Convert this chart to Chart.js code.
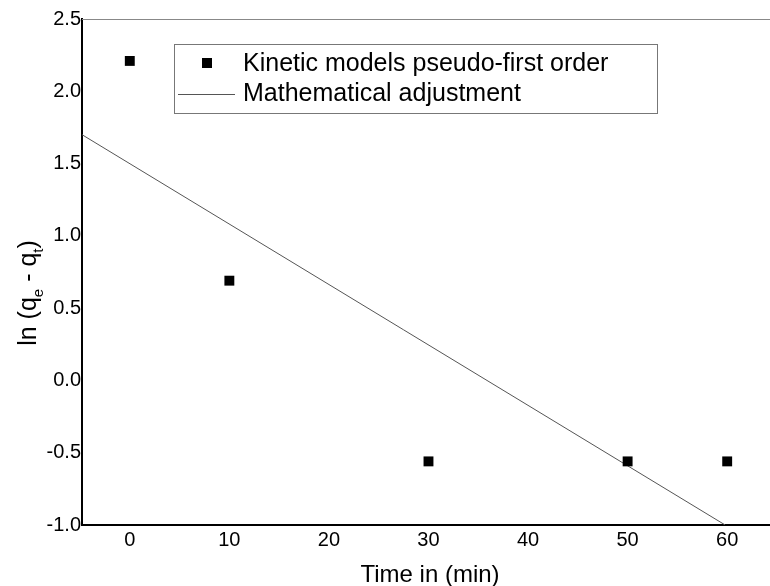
<!DOCTYPE html>
<html>
<head>
<meta charset="utf-8">
<script src="https://cdn.jsdelivr.net/npm/chart.js@4/dist/chart.umd.min.js"></script>
<style>
  html, body { margin: 0; padding: 0; background: #fff; }
  #chart { display: block; }
</style>
</head>
<body>
<canvas id="chart" width="770" height="586"></canvas>
<script>
const fontFamily = '"Liberation Sans", Arial, sans-serif';

// measured points (time in min, ln(qe - qt))
const timeMin = [0, 10, 30, 50, 60];
const lnValues = [2.21, 0.69, -0.56, -0.56, -0.56];

// fitted line, read at both ends of the drawn segment
const fitX = [-4.8, 59.8];
const fitY = [1.70, -1.0];

const xTicks = [0, 10, 20, 30, 40, 50, 60];
const yTicks = [-1.0, -0.5, 0.0, 0.5, 1.0, 1.5, 2.0, 2.5];

const seriesNames = ['Kinetic models pseudo-first order', 'Mathematical adjustment'];

// titles, legend box and top frame line
const decorPlugin = {
  id: 'decor',
  afterDraw(chart) {
    const ctx = chart.ctx;
    const area = chart.chartArea;
    ctx.save();

    // top frame line
    ctx.strokeStyle = '#888';
    ctx.lineWidth = 1;
    ctx.beginPath();
    ctx.moveTo(area.left, area.top + 0.5);
    ctx.lineTo(area.right, area.top + 0.5);
    ctx.stroke();

    // legend
    ctx.strokeStyle = '#777';
    ctx.strokeRect(174.5, 44.5, 483, 69);
    ctx.fillStyle = '#000';
    ctx.fillRect(202, 58, 10, 10);
    ctx.strokeStyle = '#555';
    ctx.beginPath();
    ctx.moveTo(178, 94.5);
    ctx.lineTo(235, 94.5);
    ctx.stroke();
    ctx.font = '25px ' + fontFamily;
    ctx.textBaseline = 'alphabetic';
    ctx.textAlign = 'left';
    ctx.fillText(seriesNames[0], 243, 71);
    ctx.fillText(seriesNames[1], 243, 101);

    // x title
    ctx.font = '24px ' + fontFamily;
    ctx.textAlign = 'center';
    ctx.fillText('Time in (min)', 430, 582);

    // y title with subscripts
    const big = '25px ' + fontFamily;
    const small = '15px ' + fontFamily;
    const parts = [
      ['ln (q', big, 0], ['e', small, 7], [' - q', big, 0], ['t', small, 7], [')', big, 0]
    ];
    let total = 0;
    parts.forEach(p => { ctx.font = p[1]; total += ctx.measureText(p[0]).width; });
    ctx.translate(36, 293);
    ctx.rotate(-Math.PI / 2);
    ctx.textAlign = 'left';
    let pos = -total / 2;
    parts.forEach(p => {
      ctx.font = p[1];
      ctx.fillText(p[0], pos, p[2]);
      pos += ctx.measureText(p[0]).width;
    });
    ctx.restore();
  }
};

new Chart(document.getElementById('chart'), {
  type: 'scatter',
  data: {
    datasets: [{
      label: seriesNames[0],
      data: timeMin.map((t, i) => ({x: t, y: lnValues[i]})),
      pointStyle: 'rect',
      pointRadius: 7,
      pointHoverRadius: 7,
      backgroundColor: '#000',
      borderColor: '#000',
      borderWidth: 0,
      showLine: false
    }, {
      label: seriesNames[1],
      type: 'line',
      data: fitX.map((x, i) => ({x: x, y: fitY[i]})),
      borderColor: '#555',
      borderWidth: 1,
      pointRadius: 0,
      fill: false
    }]
  },
  options: {
    responsive: false,
    animation: false,
    layout: { autoPadding: false, padding: { top: 19, right: 0, left: 0, bottom: 0 } },
    plugins: {
      legend: { display: false },
      tooltip: { enabled: false }
    },
    scales: {
      x: {
        type: 'linear',
        min: -4.8,
        max: 64.3,
        afterFit: s => { s.height = 61; },
        afterBuildTicks: s => { s.ticks = xTicks.map(v => ({value: v})); },
        grid: { display: false, drawTicks: false },
        border: { color: '#000', width: 2 },
        ticks: {
          color: '#000',
          padding: 3,
          maxRotation: 0,
          font: { family: fontFamily, size: 20 }
        }
      },
      y: {
        min: -1.0,
        max: 2.5,
        afterFit: s => { s.width = 82; },
        afterBuildTicks: s => { s.ticks = yTicks.map(v => ({value: v})); },
        grid: { display: false, drawTicks: false },
        border: { color: '#000', width: 2 },
        ticks: {
          color: '#000',
          padding: 1,
          font: { family: fontFamily, size: 20 },
          callback: v => v.toFixed(1)
        }
      }
    }
  },
  plugins: [decorPlugin]
});
</script>
</body>
</html>
